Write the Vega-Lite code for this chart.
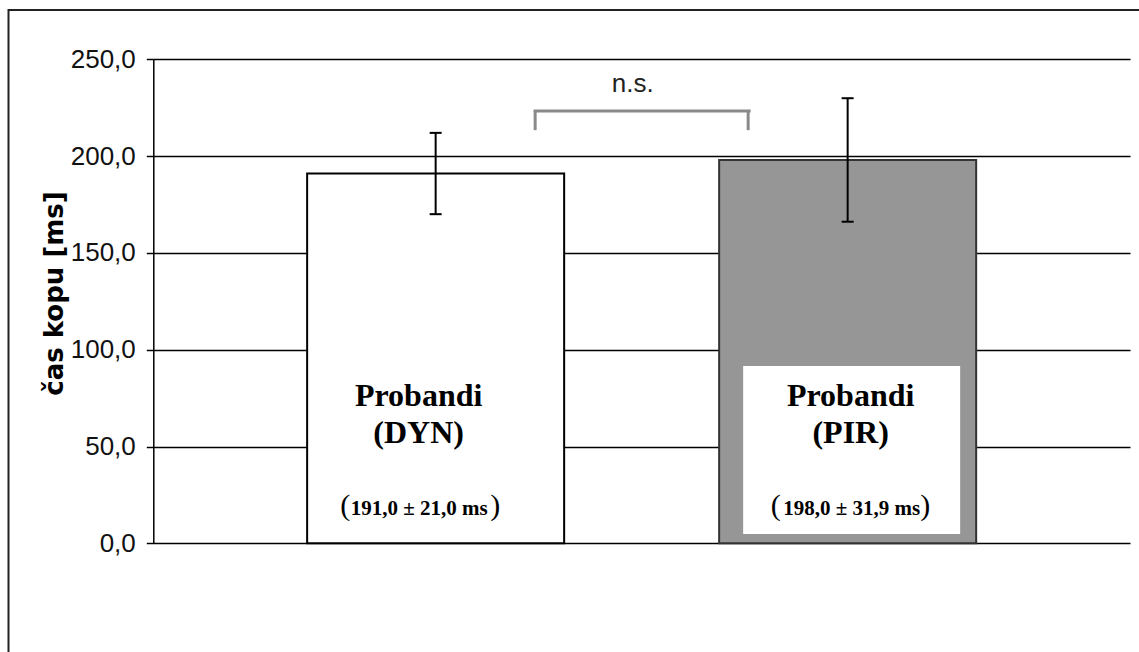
{
  "$schema": "https://vega.github.io/schema/vega-lite/v6.json",
  "width": 1150,
  "height": 702,
  "autosize": {"type": "none"},
  "padding": {"left": 8.5, "top": 10, "right": -20, "bottom": -60},
  "background": "white",
  "config": {
    "view": {"stroke": "#222222", "strokeWidth": 2},
    "axis": {"labelFont": "Liberation Sans"}
  },
  "data": {
    "values": [
      {"grp": "DYN", "mean": 191.0, "sd": 21.0, "lo": 170.0, "hi": 212.0, "name": "Probandi\n(DYN)", "stat": "191,0 ± 21,0 ms"},
      {"grp": "PIR", "mean": 198.0, "sd": 31.9, "lo": 166.1, "hi": 229.9, "name": "Probandi\n(PIR)", "stat": "198,0 ± 31,9 ms"}
    ]
  },
  "encoding": {
    "x": {
      "field": "grp",
      "type": "nominal",
      "scale": {"type": "band", "domain": ["DYN", "PIR"], "range": [144.8, 1121.5], "paddingInner": 0.3762, "paddingOuter": 0.3734},
      "axis": null
    }
  },
  "layer": [
    {
      "mark": {"type": "bar", "strokeWidth": 2},
      "encoding": {
        "y": {
          "field": "mean",
          "type": "quantitative",
          "scale": {"domain": [0, 250], "range": [533.3, 49.3], "nice": false, "zero": false},
          "axis": {
            "values": [0, 50, 100, 150, 200, 250],
            "offset": -144.8,
            "labelExpr": "replace(format(datum.value, '.1f'), '.', ',')",
            "labelFontSize": 26,
            "labelColor": "#111111",
            "labelPadding": 11,
            "tickSize": 7,
            "tickWidth": 1.5,
            "tickColor": "#000000",
            "domainColor": "#000000",
            "domainWidth": 1.5,
            "grid": true,
            "gridColor": "#000000",
            "gridWidth": 1.5,
            "gridOpacity": 1,
            "title": "čas kopu [ms]",
            "titleFont": "DejaVu Sans",
            "titleFontSize": 26,
            "titleFontWeight": "bold",
            "titleColor": "#000000",
            "titlePadding": 3,
            "titleY": 283
          }
        },
        "fill": {"field": "grp", "type": "nominal", "scale": {"domain": ["DYN", "PIR"], "range": ["#ffffff", "#969696"]}, "legend": null},
        "stroke": {"field": "grp", "type": "nominal", "scale": {"domain": ["DYN", "PIR"], "range": ["#000000", "#333333"]}, "legend": null}
      }
    },
    {
      "transform": [{"filter": "datum.grp == 'PIR'"}],
      "mark": {"type": "bar", "fill": "#ffffff", "stroke": null, "width": 217, "xOffset": 4},
      "encoding": {
        "y": {"datum": 91.6, "type": "quantitative"},
        "y2": {"datum": 4.8}
      }
    },
    {
      "mark": {"type": "rule", "color": "#000000", "strokeWidth": 2},
      "encoding": {
        "y": {"field": "lo", "type": "quantitative"},
        "y2": {"field": "hi"}
      }
    },
    {
      "mark": {"type": "tick", "orient": "horizontal", "size": 12, "thickness": 2, "color": "#000000", "opacity": 1},
      "encoding": {"y": {"field": "lo", "type": "quantitative"}}
    },
    {
      "mark": {"type": "tick", "orient": "horizontal", "size": 12, "thickness": 2, "color": "#000000", "opacity": 1},
      "encoding": {"y": {"field": "hi", "type": "quantitative"}}
    },
    {
      "transform": [{"filter": "datum.grp == 'DYN'"}],
      "layer": [
        {
          "mark": {"type": "tick", "orient": "horizontal", "size": 217, "thickness": 3, "color": "#8a8a8a", "opacity": 1, "xOffset": 206.5},
          "encoding": {"y": {"datum": 223.3, "type": "quantitative"}}
        },
        {
          "mark": {"type": "rule", "color": "#8a8a8a", "strokeWidth": 3, "xOffset": 99.5},
          "encoding": {"y": {"datum": 223.3, "type": "quantitative"}, "y2": {"datum": 213.4}}
        },
        {
          "mark": {"type": "rule", "color": "#8a8a8a", "strokeWidth": 3, "xOffset": 312.5},
          "encoding": {"y": {"datum": 223.3, "type": "quantitative"}, "y2": {"datum": 213.4}}
        },
        {
          "mark": {"type": "text", "font": "Liberation Sans", "fontSize": 26, "color": "#222222", "align": "center", "baseline": "alphabetic", "dx": 197},
          "encoding": {"y": {"datum": 233, "type": "quantitative"}, "text": {"value": "n.s."}}
        },
        {
          "mark": {"type": "text", "font": "Liberation Serif", "fontWeight": "bold", "fontSize": 32, "color": "#000000", "align": "center", "baseline": "alphabetic", "lineBreak": "\n", "lineHeight": 37.3, "dx": -17},
          "encoding": {"y": {"datum": 71.1, "type": "quantitative"}, "text": {"field": "name"}}
        },
        {
          "mark": {"type": "text", "font": "Liberation Serif", "fontWeight": "bold", "fontSize": 21, "color": "#000000", "align": "center", "baseline": "alphabetic", "dx": -16.5},
          "encoding": {"y": {"datum": 14.6, "type": "quantitative"}, "text": {"field": "stat"}}
        },
        {
          "mark": {"type": "text", "font": "Liberation Serif", "fontSize": 30, "color": "#000000", "align": "center", "baseline": "alphabetic", "dx": -90.5},
          "encoding": {"y": {"datum": 14.6, "type": "quantitative"}, "text": {"value": "("}}
        },
        {
          "mark": {"type": "text", "font": "Liberation Serif", "fontSize": 30, "color": "#000000", "align": "center", "baseline": "alphabetic", "dx": 59.5},
          "encoding": {"y": {"datum": 14.6, "type": "quantitative"}, "text": {"value": ")"}}
        }
      ]
    },
    {
      "transform": [{"filter": "datum.grp == 'PIR'"}],
      "layer": [
        {
          "mark": {"type": "text", "font": "Liberation Serif", "fontWeight": "bold", "fontSize": 32, "color": "#000000", "align": "center", "baseline": "alphabetic", "lineBreak": "\n", "lineHeight": 37.3, "dx": 3},
          "encoding": {"y": {"datum": 71.1, "type": "quantitative"}, "text": {"field": "name"}}
        },
        {
          "mark": {"type": "text", "font": "Liberation Serif", "fontWeight": "bold", "fontSize": 21, "color": "#000000", "align": "center", "baseline": "alphabetic", "dx": 4},
          "encoding": {"y": {"datum": 14.6, "type": "quantitative"}, "text": {"field": "stat"}}
        },
        {
          "mark": {"type": "text", "font": "Liberation Serif", "fontSize": 30, "color": "#000000", "align": "center", "baseline": "alphabetic", "dx": -71.8},
          "encoding": {"y": {"datum": 14.6, "type": "quantitative"}, "text": {"value": "("}}
        },
        {
          "mark": {"type": "text", "font": "Liberation Serif", "fontSize": 30, "color": "#000000", "align": "center", "baseline": "alphabetic", "dx": 77.5},
          "encoding": {"y": {"datum": 14.6, "type": "quantitative"}, "text": {"value": ")"}}
        }
      ]
    }
  ]
}
